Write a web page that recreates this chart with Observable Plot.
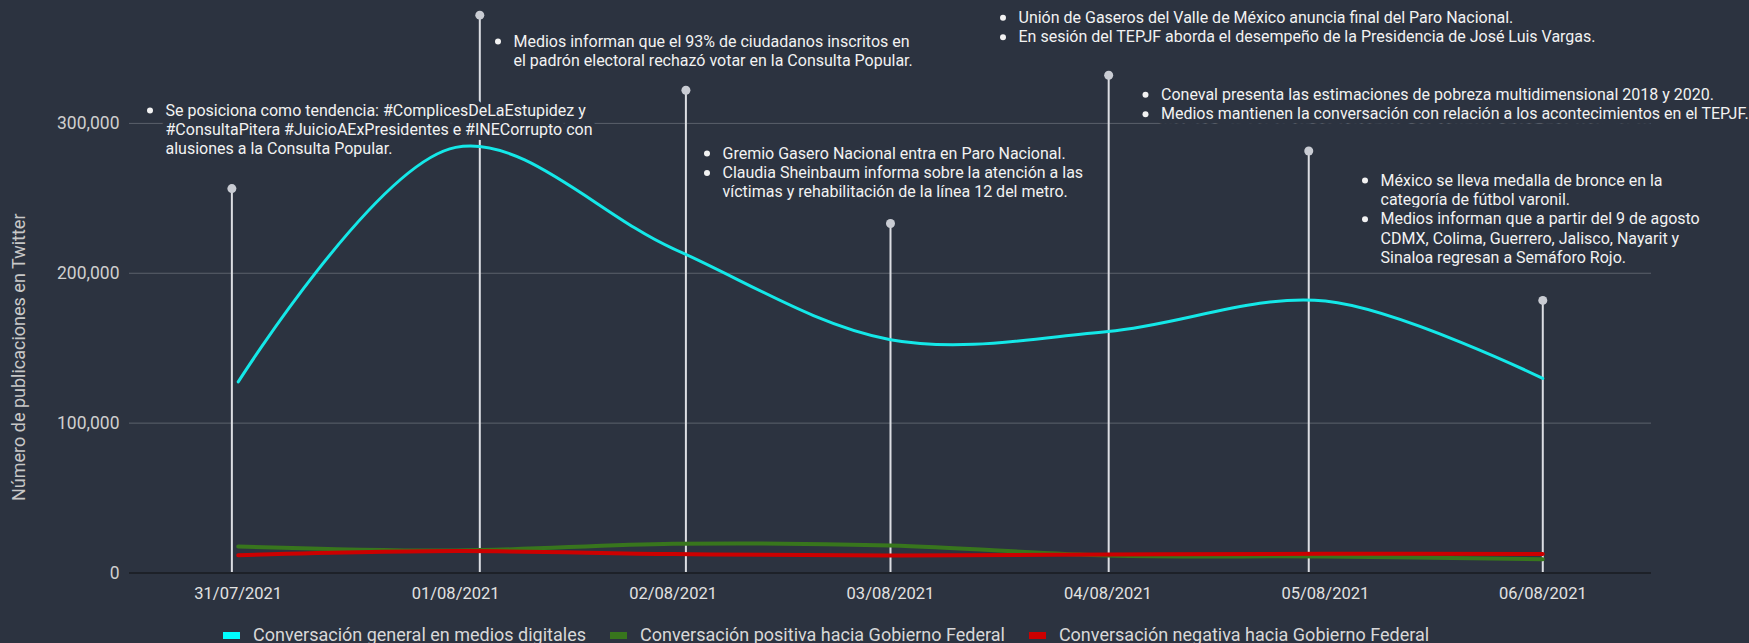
<!DOCTYPE html>
<html>
<head>
<meta charset="utf-8">
<script src="https://cdn.jsdelivr.net/npm/d3@7"></script>
<script src="https://cdn.jsdelivr.net/npm/@observablehq/plot@0.6"></script>
<style>
html,body{margin:0;padding:0;background:#2c3340;}
body{width:1749px;height:643px;overflow:hidden;font-family:Roboto,sans-serif;}
#chart svg{display:block;}
#legend{display:flex;gap:24px;margin-left:223px;margin-top:9px;line-height:22px;font-size:18px;color:#d8d8d8;font-family:Roboto,sans-serif;}
.item{display:flex;align-items:center;white-space:nowrap;}
.sw{width:17px;height:7px;margin-right:13px;}
</style>
</head>
<body>
<div id="chart"></div>
<div id="legend"></div>
<script>
// ---- data ----
const dates = ["2021-07-31","2021-08-01","2021-08-02","2021-08-03","2021-08-04","2021-08-05","2021-08-06"];
const general  = [127500, 284000, 216500, 155700, 161200, 181500, 129800];
const positiva = [17700, 15000, 19500, 18400, 11700, 11000, 9200];
const negativa = [11900, 14600, 12600, 11700, 12300, 12800, 12600];
const seriesNames = ["Conversación general en medios digitales","Conversación positiva hacia Gobierno Federal","Conversación negativa hacia Gobierno Federal"];
const yTicks = [0, 100000, 200000, 300000];
const yLabel = "Número de publicaciones en Twitter";

// annotation markers (time of marker, top value)
const eventTimes = ["2021-07-30T23:18Z","2021-08-01T02:40Z","2021-08-02T01:25Z","2021-08-03T00:00Z","2021-08-04T00:05Z","2021-08-04T22:10Z","2021-08-06T00:00Z"];
const eventTops  = [256500, 372200, 322100, 233200, 332100, 281600, 181900];

// annotation texts: blocks -> bullets -> lines
const noteBlocks = [
  [["Se posiciona como tendencia: #ComplicesDeLaEstupidez y","#ConsultaPitera #JuicioAExPresidentes e #INECorrupto con","alusiones a la Consulta Popular."]],
  [["Medios informan que el 93% de ciudadanos inscritos en","el padrón electoral rechazó votar en la Consulta Popular."]],
  [["Gremio Gasero Nacional entra en Paro Nacional."],["Claudia Sheinbaum informa sobre la atención a las","víctimas y rehabilitación de la línea 12 del metro."]],
  [["Unión de Gaseros del Valle de México anuncia final del Paro Nacional."],["En sesión del TEPJF aborda el desempeño de la Presidencia de José Luis Vargas."]],
  [["Coneval presenta las estimaciones de pobreza multidimensional 2018 y 2020."],["Medios mantienen la conversación con relación a los acontecimientos en el TEPJF."]],
  [["México se lleva medalla de bronce en la","categoría de fútbol varonil."],["Medios informan que a partir del 9 de agosto","CDMX, Colima, Guerrero, Jalisco, Nayarit y","Sinaloa regresan a Semáforo Rojo."]]
];

// ---- layout / style ----
const BG = "#2c3340";
const colors = ["#14e8e8", "#38761d", "#cc0000"];
const legendColors = ["#00ffff", "#38761d", "#cc0000"];
const W = 1749, H = 615, ML = 129, MR = 98, MT = 3, MB = 42.5;
const LH = 19.4;
const noteLayout = [[165,110],[513,41],[722,153],[1018,17.3],[1160.5,94.3],[1380,180]];

const parse = d3.utcParse("%Y-%m-%d");
const xDates = dates.map(parse);
const series = [general, positiva, negativa].map(vals => vals.map((v,i) => ({date: xDates[i], value: v})));
const events = eventTimes.map((t,i) => ({date: new Date(t), top: eventTops[i]}));

const noteTexts = [], noteDots = [];
noteBlocks.forEach((block, b) => {
  const [left, top] = noteLayout[b];
  let line = 0;
  block.forEach(bullet => {
    noteDots.push(Plot.dot([0], {frameAnchor: "top-left", dx: left - 15.5 - ML, dy: top + line*LH - MT, r: 3, fill: "#f2f2f2"}));
    bullet.forEach(txt => {
      noteTexts.push(Plot.text([txt], {frameAnchor: "top-left", text: d => d, dx: left - ML, dy: top + line*LH - MT,
        textAnchor: "start", lineAnchor: "middle", fontSize: 16, fill: "#f2f2f2", stroke: BG, strokeWidth: 10}));
      line++;
    });
  });
});

const chart = Plot.plot({
  width: W, height: H,
  marginLeft: ML, marginRight: MR, marginTop: MT, marginBottom: MB,
  style: {background: "transparent", fontFamily: "Roboto, sans-serif", overflow: "visible"},
  x: {type: "utc", domain: [new Date("2021-07-30T12:00Z"), new Date("2021-08-06T12:00Z")]},
  y: {domain: [0, 380000]},
  marks: [
    Plot.ruleY(yTicks.filter(v => v > 0), {stroke: "#5b616b", strokeWidth: 1}),
    Plot.axisY({ticks: yTicks, tickSize: 0, tickPadding: 10, tickFormat: d3.format(","), fontSize: 17.5, label: null, color: "#cfcfcf"}),
    Plot.axisX({ticks: xDates, tickSize: 0, tickPadding: 14, tickFormat: d3.utcFormat("%d/%m/%Y"), fontSize: 16.5, label: null, color: "#e2e2e2"}),
    Plot.ruleX(events, {x: "date", y1: 0, y2: "top", stroke: "#dcdee3", strokeWidth: 2}),
    ...noteTexts,
    ...noteDots,
    Plot.ruleY([0], {stroke: "#1d2128", strokeWidth: 2}),
    Plot.line(series[0], {x: "date", y: "value", stroke: colors[0], strokeWidth: 3, curve: "catmull-rom"}),
    Plot.line(series[1], {x: "date", y: "value", stroke: colors[1], strokeWidth: 4, curve: "catmull-rom"}),
    Plot.line(series[2], {x: "date", y: "value", stroke: colors[2], strokeWidth: 4, curve: "catmull-rom"}),
    Plot.dot(events, {x: "date", y: "top", r: 4.5, fill: "#c9ccd3"}),
    Plot.text([yLabel], {frameAnchor: "left", text: d => d, rotate: -90, textAnchor: "middle", lineAnchor: "middle", dx: -110, dy: 69, fontSize: 18, fill: "#c8c8c8"})
  ]
});
document.getElementById("chart").appendChild(chart);

const legend = document.getElementById("legend");
seriesNames.forEach((name, i) => {
  const item = document.createElement("div");
  item.className = "item";
  const sw = document.createElement("span");
  sw.className = "sw";
  sw.style.background = legendColors[i];
  const label = document.createElement("span");
  label.textContent = name;
  item.appendChild(sw); item.appendChild(label);
  legend.appendChild(item);
});
</script>
</body>
</html>
